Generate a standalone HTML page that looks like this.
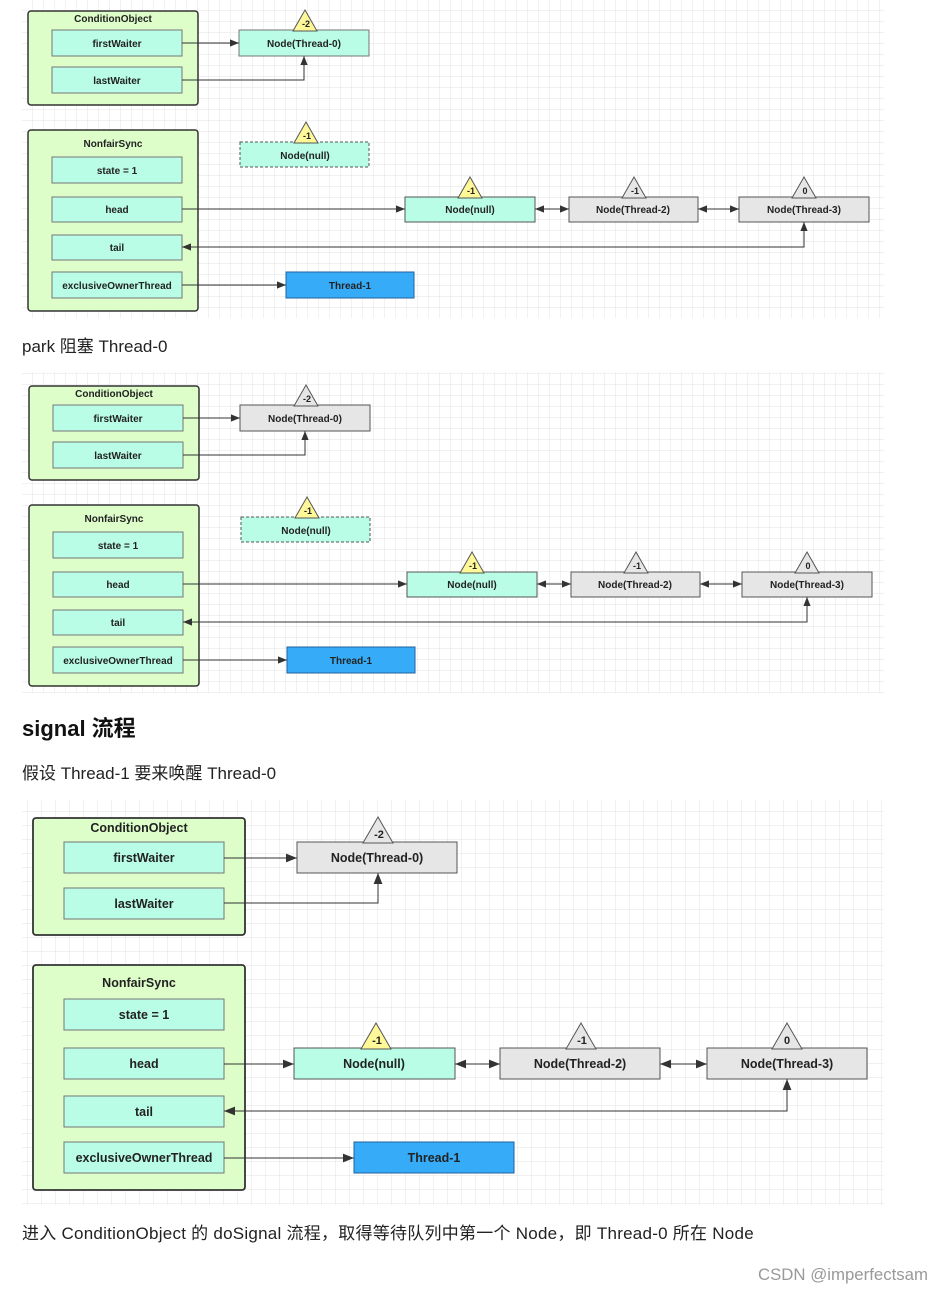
<!DOCTYPE html>
<html><head><meta charset="utf-8"><style>
html,body{margin:0;padding:0;background:#fff;}
body{width:946px;height:1294px;position:relative;overflow:hidden;}
.t{position:absolute;left:22px;font-family:"Liberation Sans","Noto Sans CJK SC",sans-serif;color:#222;white-space:nowrap;}
</style></head><body>
<svg width="946" height="1294" style="position:absolute;left:0;top:0" font-family="Liberation Sans, sans-serif" font-weight="bold">
<defs>
<pattern id="g" width="11" height="11" patternUnits="userSpaceOnUse"><path d="M11 0V11H0" fill="none" stroke="#e3e3e3" stroke-width="1"/></pattern>
<pattern id="g2" width="14" height="14" patternUnits="userSpaceOnUse"><path d="M14 0V14H0" fill="none" stroke="#e3e3e3" stroke-width="1"/></pattern>
<marker id="a" viewBox="0 0 10 10" refX="10" refY="5" markerWidth="9" markerHeight="9" orient="auto-start-reverse" markerUnits="userSpaceOnUse"><path d="M0 1L10 5L0 9z" fill="#333"/></marker>
<marker id="b" viewBox="0 0 10 10" refX="10" refY="5" markerWidth="11" markerHeight="11" orient="auto-start-reverse" markerUnits="userSpaceOnUse"><path d="M0 1L10 5L0 9z" fill="#333"/></marker>
</defs>
<rect x="22" y="0" width="862" height="318" fill="url(#g)"/>
<rect x="22" y="372" width="862" height="321" fill="url(#g)"/>
<rect x="22" y="800" width="862" height="405" fill="url(#g2)"/>

<g id="d1" font-size="10" fill="#222" stroke-width="1">
<rect x="28" y="11" width="170" height="94" rx="3" fill="#ddfdc9" stroke="#333" stroke-width="1.5"/>
<text x="113" y="22" text-anchor="middle">ConditionObject</text>
<rect x="52" y="30" width="130" height="26" fill="#b9fde6" stroke="#777"/><text x="117" y="47" text-anchor="middle">firstWaiter</text>
<rect x="52" y="67" width="130" height="26" fill="#b9fde6" stroke="#777"/><text x="117" y="84" text-anchor="middle">lastWaiter</text>
<rect x="239" y="30" width="130" height="26" fill="#b9fde6" stroke="#777"/><text x="304" y="47" text-anchor="middle">Node(Thread-0)</text>
<path d="M293 31L305 10L317 31z" fill="#fff899" stroke="#555"/><text x="306" y="27" text-anchor="middle" font-size="9">-2</text>
<path d="M182 43H239" stroke="#333" fill="none" marker-end="url(#a)"/>
<path d="M182 80H304V56" stroke="#333" fill="none" marker-end="url(#a)"/>

<rect x="28" y="130" width="170" height="181" rx="3" fill="#ddfdc9" stroke="#333" stroke-width="1.5"/>
<text x="113" y="147" text-anchor="middle">NonfairSync</text>
<rect x="52" y="157" width="130" height="26" fill="#b9fde6" stroke="#777"/><text x="117" y="174" text-anchor="middle">state = 1</text>
<rect x="52" y="197" width="130" height="25" fill="#b9fde6" stroke="#777"/><text x="117" y="213" text-anchor="middle">head</text>
<rect x="52" y="235" width="130" height="25" fill="#b9fde6" stroke="#777"/><text x="117" y="251" text-anchor="middle">tail</text>
<rect x="52" y="272" width="130" height="26" fill="#b9fde6" stroke="#777"/><text x="117" y="289" text-anchor="middle">exclusiveOwnerThread</text>
<rect x="240" y="142" width="129" height="25" fill="#b9fde6" stroke="#555" stroke-dasharray="3,2"/><text x="305" y="159" text-anchor="middle">Node(null)</text>
<path d="M294 143L306 122L318 143z" fill="#fff899" stroke="#555"/><text x="307" y="139" text-anchor="middle" font-size="9">-1</text>
<rect x="405" y="197" width="130" height="25" fill="#b9fde6" stroke="#555"/><text x="470" y="213" text-anchor="middle">Node(null)</text>
<path d="M458 198L470 177L482 198z" fill="#fff899" stroke="#555"/><text x="471" y="194" text-anchor="middle" font-size="9">-1</text>
<rect x="569" y="197" width="129" height="25" fill="#e6e6e6" stroke="#555"/><text x="633" y="213" text-anchor="middle">Node(Thread-2)</text>
<path d="M622 198L634 177L646 198z" fill="#e6e6e6" stroke="#555"/><text x="635" y="194" text-anchor="middle" font-size="9">-1</text>
<rect x="739" y="197" width="130" height="25" fill="#e6e6e6" stroke="#555"/><text x="804" y="213" text-anchor="middle">Node(Thread-3)</text>
<path d="M792 198L804 177L816 198z" fill="#e6e6e6" stroke="#555"/><text x="805" y="194" text-anchor="middle" font-size="9">0</text>
<path d="M182 209H405" stroke="#333" fill="none" marker-end="url(#a)"/>
<path d="M535 209H569" stroke="#333" fill="none" marker-end="url(#a)" marker-start="url(#a)"/>
<path d="M698 209H739" stroke="#333" fill="none" marker-end="url(#a)" marker-start="url(#a)"/>
<path d="M804 222V247H182" stroke="#333" fill="none" marker-end="url(#a)" marker-start="url(#a)"/>
<rect x="286" y="272" width="128" height="26" fill="#36acf8" stroke="#2261a0"/><text x="350" y="289" text-anchor="middle">Thread-1</text>
<path d="M182 285H286" stroke="#333" fill="none" marker-end="url(#a)"/>
</g>

<g transform="translate(1,375)" font-size="10" fill="#222">
<rect x="28" y="11" width="170" height="94" rx="3" fill="#ddfdc9" stroke="#333" stroke-width="1.5"/>
<text x="113" y="22" text-anchor="middle">ConditionObject</text>
<rect x="52" y="30" width="130" height="26" fill="#b9fde6" stroke="#777"/><text x="117" y="47" text-anchor="middle">firstWaiter</text>
<rect x="52" y="67" width="130" height="26" fill="#b9fde6" stroke="#777"/><text x="117" y="84" text-anchor="middle">lastWaiter</text>
<rect x="239" y="30" width="130" height="26" fill="#e6e6e6" stroke="#555"/><text x="304" y="47" text-anchor="middle">Node(Thread-0)</text>
<path d="M293 31L305 10L317 31z" fill="#e6e6e6" stroke="#555"/><text x="306" y="27" text-anchor="middle" font-size="9">-2</text>
<path d="M182 43H239" stroke="#333" fill="none" marker-end="url(#a)"/>
<path d="M182 80H304V56" stroke="#333" fill="none" marker-end="url(#a)"/>
<rect x="28" y="130" width="170" height="181" rx="3" fill="#ddfdc9" stroke="#333" stroke-width="1.5"/>
<text x="113" y="147" text-anchor="middle">NonfairSync</text>
<rect x="52" y="157" width="130" height="26" fill="#b9fde6" stroke="#777"/><text x="117" y="174" text-anchor="middle">state = 1</text>
<rect x="52" y="197" width="130" height="25" fill="#b9fde6" stroke="#777"/><text x="117" y="213" text-anchor="middle">head</text>
<rect x="52" y="235" width="130" height="25" fill="#b9fde6" stroke="#777"/><text x="117" y="251" text-anchor="middle">tail</text>
<rect x="52" y="272" width="130" height="26" fill="#b9fde6" stroke="#777"/><text x="117" y="289" text-anchor="middle">exclusiveOwnerThread</text>
<rect x="240" y="142" width="129" height="25" fill="#b9fde6" stroke="#555" stroke-dasharray="3,2"/><text x="305" y="159" text-anchor="middle">Node(null)</text>
<path d="M294 143L306 122L318 143z" fill="#fff899" stroke="#555"/><text x="307" y="139" text-anchor="middle" font-size="9">-1</text>
<rect x="406" y="197" width="130" height="25" fill="#b9fde6" stroke="#555"/><text x="471" y="213" text-anchor="middle">Node(null)</text>
<path d="M459 198L471 177L483 198z" fill="#fff899" stroke="#555"/><text x="472" y="194" text-anchor="middle" font-size="9">-1</text>
<rect x="570" y="197" width="129" height="25" fill="#e6e6e6" stroke="#555"/><text x="634" y="213" text-anchor="middle">Node(Thread-2)</text>
<path d="M623 198L635 177L647 198z" fill="#e6e6e6" stroke="#555"/><text x="636" y="194" text-anchor="middle" font-size="9">-1</text>
<rect x="741" y="197" width="130" height="25" fill="#e6e6e6" stroke="#555"/><text x="806" y="213" text-anchor="middle">Node(Thread-3)</text>
<path d="M794 198L806 177L818 198z" fill="#e6e6e6" stroke="#555"/><text x="807" y="194" text-anchor="middle" font-size="9">0</text>
<path d="M182 209H406" stroke="#333" fill="none" marker-end="url(#a)"/>
<path d="M536 209H570" stroke="#333" fill="none" marker-end="url(#a)" marker-start="url(#a)"/>
<path d="M699 209H741" stroke="#333" fill="none" marker-end="url(#a)" marker-start="url(#a)"/>
<path d="M806 222V247H182" stroke="#333" fill="none" marker-end="url(#a)" marker-start="url(#a)"/>
<rect x="286" y="272" width="128" height="26" fill="#36acf8" stroke="#2261a0"/><text x="350" y="289" text-anchor="middle">Thread-1</text>
<path d="M182 285H286" stroke="#333" fill="none" marker-end="url(#a)"/>
</g>

<g font-size="12.5" fill="#222">
<rect x="33" y="818" width="212" height="117" rx="3" fill="#ddfdc9" stroke="#333" stroke-width="1.8"/>
<text x="139" y="832" text-anchor="middle">ConditionObject</text>
<rect x="64" y="842" width="160" height="31" fill="#b9fde6" stroke="#777"/><text x="144" y="862" text-anchor="middle">firstWaiter</text>
<rect x="64" y="888" width="160" height="31" fill="#b9fde6" stroke="#777"/><text x="144" y="908" text-anchor="middle">lastWaiter</text>
<rect x="297" y="842" width="160" height="31" fill="#e6e6e6" stroke="#555"/><text x="377" y="862" text-anchor="middle">Node(Thread-0)</text>
<path d="M363 843L378 817L393 843z" fill="#e6e6e6" stroke="#555"/><text x="379" y="838" text-anchor="middle" font-size="11">-2</text>
<path d="M224 858H297" stroke="#333" fill="none" marker-end="url(#b)"/>
<path d="M224 903H378V873" stroke="#333" fill="none" marker-end="url(#b)"/>
<rect x="33" y="965" width="212" height="225" rx="3" fill="#ddfdc9" stroke="#333" stroke-width="1.8"/>
<text x="139" y="987" text-anchor="middle">NonfairSync</text>
<rect x="64" y="999" width="160" height="31" fill="#b9fde6" stroke="#777"/><text x="144" y="1019" text-anchor="middle">state = 1</text>
<rect x="64" y="1048" width="160" height="31" fill="#b9fde6" stroke="#777"/><text x="144" y="1068" text-anchor="middle">head</text>
<rect x="64" y="1096" width="160" height="31" fill="#b9fde6" stroke="#777"/><text x="144" y="1116" text-anchor="middle">tail</text>
<rect x="64" y="1142" width="160" height="31" fill="#b9fde6" stroke="#777"/><text x="144" y="1162" text-anchor="middle">exclusiveOwnerThread</text>
<rect x="294" y="1048" width="161" height="31" fill="#b9fde6" stroke="#555"/><text x="374" y="1068" text-anchor="middle">Node(null)</text>
<path d="M361 1049L376 1023L391 1049z" fill="#fff899" stroke="#555"/><text x="377" y="1044" text-anchor="middle" font-size="11">-1</text>
<rect x="500" y="1048" width="160" height="31" fill="#e6e6e6" stroke="#555"/><text x="580" y="1068" text-anchor="middle">Node(Thread-2)</text>
<path d="M566 1049L581 1023L596 1049z" fill="#e6e6e6" stroke="#555"/><text x="582" y="1044" text-anchor="middle" font-size="11">-1</text>
<rect x="707" y="1048" width="160" height="31" fill="#e6e6e6" stroke="#555"/><text x="787" y="1068" text-anchor="middle">Node(Thread-3)</text>
<path d="M772 1049L787 1023L802 1049z" fill="#e6e6e6" stroke="#555"/><text x="787" y="1044" text-anchor="middle" font-size="11">0</text>
<path d="M224 1064H294" stroke="#333" fill="none" marker-end="url(#b)"/>
<path d="M455 1064H500" stroke="#333" fill="none" marker-end="url(#b)" marker-start="url(#b)"/>
<path d="M660 1064H707" stroke="#333" fill="none" marker-end="url(#b)" marker-start="url(#b)"/>
<path d="M787 1079V1111H224" stroke="#333" fill="none" marker-end="url(#b)" marker-start="url(#b)"/>
<rect x="354" y="1142" width="160" height="31" fill="#36acf8" stroke="#2261a0"/><text x="434" y="1162" text-anchor="middle">Thread-1</text>
<path d="M224 1158H354" stroke="#333" fill="none" marker-end="url(#b)"/>
</g>
</svg>
<div class="t" style="top:332px;font-size:17px">park 阻塞 Thread-0</div>
<div class="t" style="top:711px;font-size:22px;font-weight:bold;color:#111">signal 流程</div>
<div class="t" style="top:759px;font-size:17px">假设 Thread-1 要来唤醒 Thread-0</div>
<div class="t" style="top:1219px;font-size:17px;letter-spacing:0.25px">进入 ConditionObject 的 doSignal 流程，取得等待队列中第一个 Node，即 Thread-0 所在 Node</div>
<div class="t" style="top:1265px;left:758px;font-size:16.8px;color:#999">CSDN @imperfectsam</div>
</body></html>
